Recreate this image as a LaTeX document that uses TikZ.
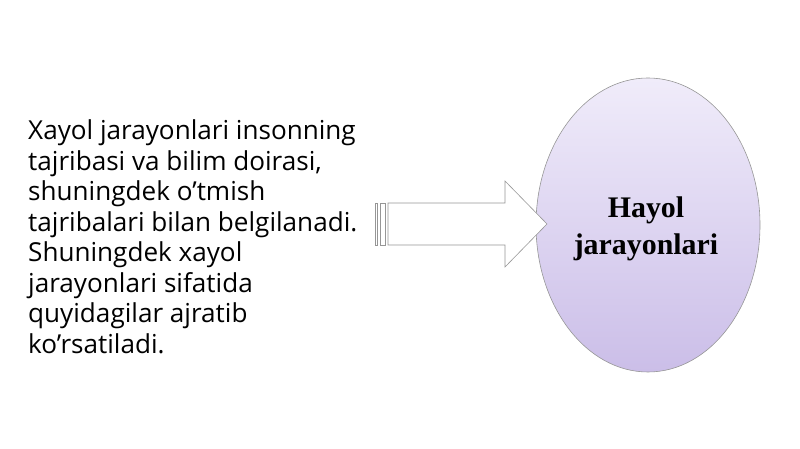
\documentclass[tikz,border=0pt]{standalone}
\usepackage{fontspec}
\setmainfont{Liberation Serif}
\newfontfamily\bodyfont{Open Sans}
\definecolor{lavtop}{RGB}{240,236,250}
\definecolor{lavbot}{RGB}{203,190,232}
\definecolor{edgegray}{RGB}{150,150,150}
\tikzset{
  bodyline/.style={anchor=base west,inner sep=0pt,font=\bodyfont\fontsize{26.2}{30}\selectfont},
  bubble/.style={ellipse,draw=edgegray,line width=0.6pt,top color=lavtop,bottom color=lavbot,
    minimum width=224bp,minimum height=294bp,inner sep=0pt},
  bubbletext/.style={font=\bfseries\fontsize{30}{37}\selectfont,align=center},
  stripe/.style={draw=edgegray,line width=0.6pt,fill=white}
}
\usetikzlibrary{shapes.geometric}

\begin{document}
\begin{tikzpicture}[x=1bp,y=1bp]
\useasboundingbox (0,0) rectangle (800,449);
\foreach \t [count=\i] in {Xayol jarayonlari insonning,tajribasi va bilim doirasi{,},shuningdek o’tmish,tajribalari bilan belgilanadi.,Shuningdek xayol,jarayonlari sifatida,quyidagilar ajratib,ko’rsatiladi.}
  \node[bodyline] (line\i) at (28,{309-(\i-1)*30.5}) {\t};
\node[bubble] (hayol) at (648,224) {};
\node[bubbletext] (hayoltxt) at (646,220) {Hayol\\jarayonlari};
% striped arrow
\draw [stripe] (375,204) rectangle (377.5,246);
\draw [stripe] (380,204) rectangle (385,246);
\draw [stripe] (388,204) -- (505,204) -- (505,182) -- (547,225) -- (505,268) -- (505,246) -- (388,246) -- cycle;
\end{tikzpicture}
\end{document}
